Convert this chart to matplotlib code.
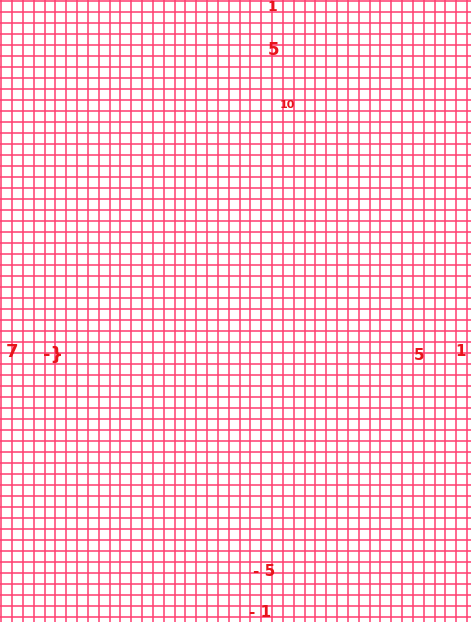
import numpy as np
from matplotlib import pyplot as plt
from matplotlib.ticker import MultipleLocator

# =============================================================================
# Data: hand-written marks on grid paper (grid units, origin at centre lines)
# =============================================================================
labels = ["1", "5", "10", "7", "-}", "5", "1", "- 5", "- 1"]
label_x = [0.0, 0.1, 1.45, -24.0, -20.2, 13.6, 17.45, -0.7, -1.1]
label_y = [31.45, 27.6, 22.6, 0.1, -0.2, -0.2, 0.1, -19.9, -23.6]
label_size = [10, 12, 8, 13, 13, 11, 11, 11, 11]

grid_color = "#ff3d70"
ink_color = "#e8141c"

# =============================================================================
# Figure
# =============================================================================
fig = plt.figure(figsize=(4.71, 6.22), dpi=100)
ax = fig.add_axes([0, 0, 1, 1])
ax.set_facecolor("white")

ax.set_xlim(-25.12, 18.37)
ax.set_ylim(-24.48, 32.12)

ax.xaxis.set_major_locator(MultipleLocator(1))
ax.yaxis.set_major_locator(MultipleLocator(1))
ax.grid(True, color=grid_color, linewidth=1.1)
ax.set_axisbelow(True)
ax.tick_params(length=0, labelbottom=False, labelleft=False)
for s in ax.spines.values():
    s.set_visible(False)

for t, x, y, fs in zip(labels, label_x, label_y, label_size):
    ax.text(x, y, t, color=ink_color, fontsize=fs, fontweight="bold",
            ha="center", va="center", family="DejaVu Sans")

fig.savefig("out.png", dpi=100)
